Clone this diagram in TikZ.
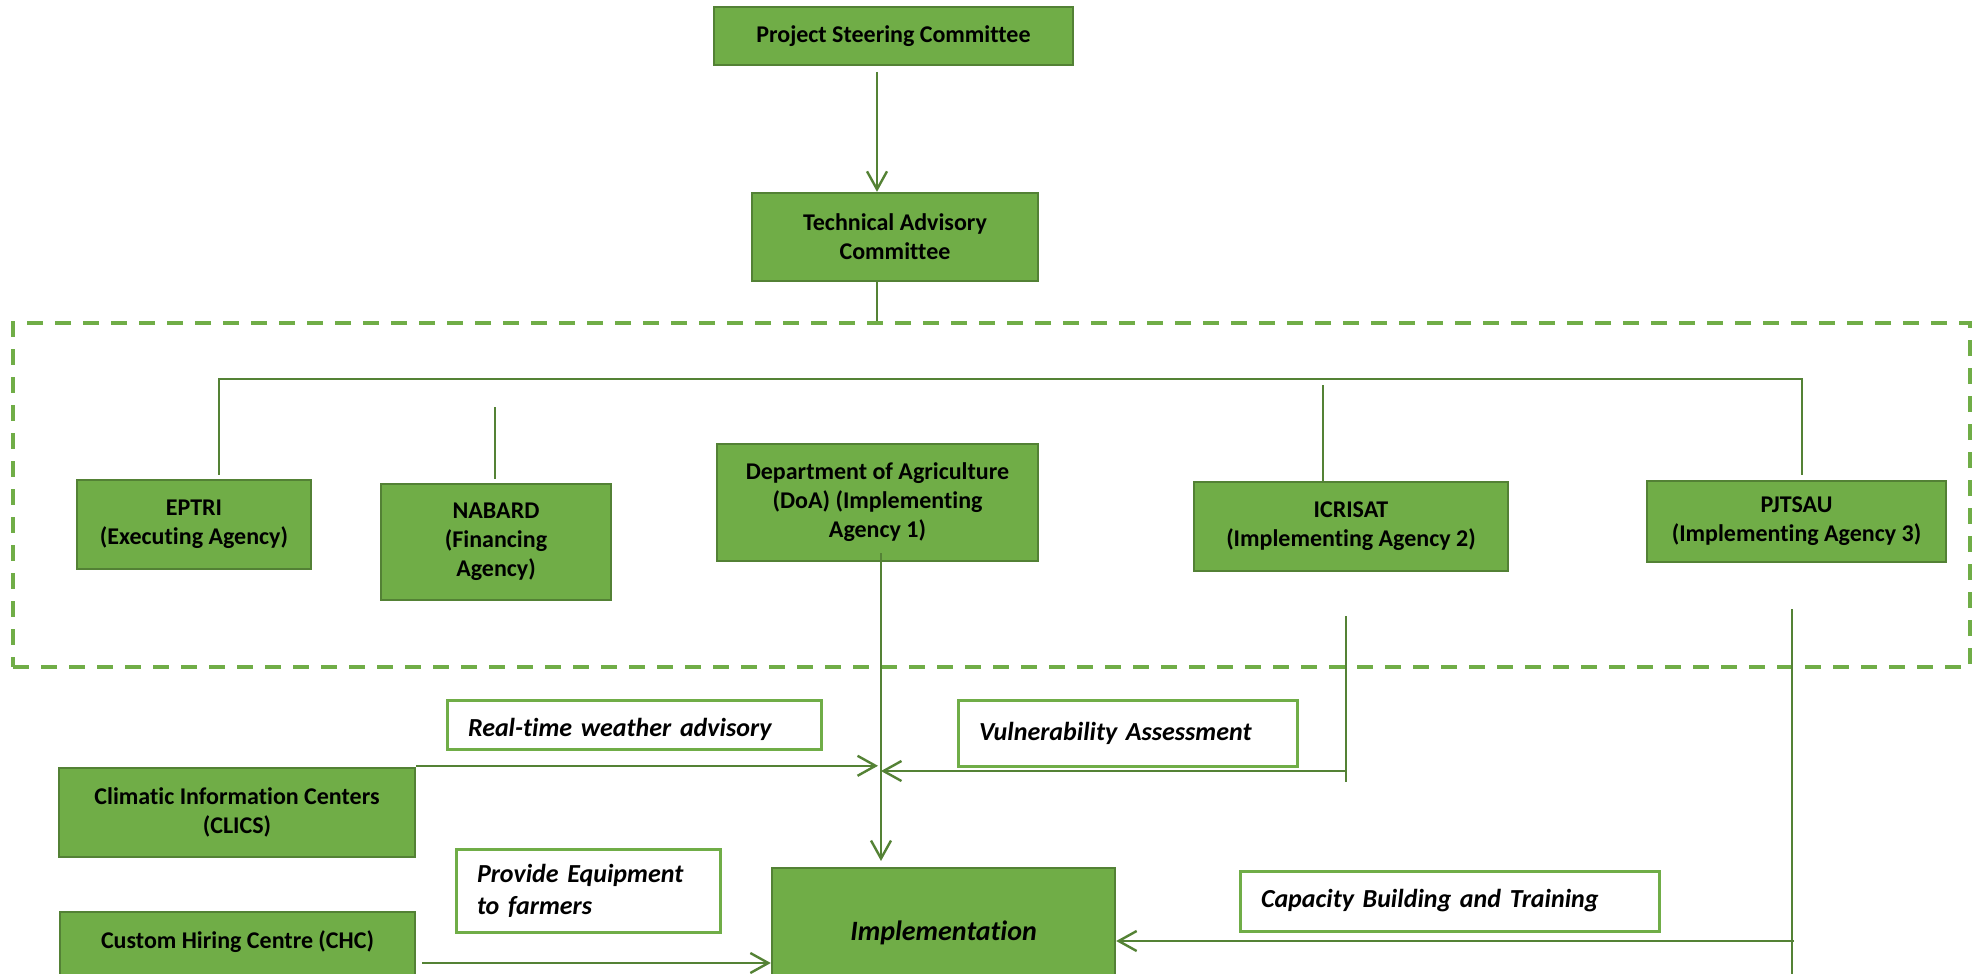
\documentclass[tikz,border=0pt]{standalone}
\usepackage{fontspec}
\setmainfont{Carlito}[Ligatures=CommonOff]
\usetikzlibrary{arrows.meta,calc}
\definecolor{gfill}{HTML}{70AD47}
\definecolor{gdark}{HTML}{538135}
\definecolor{gline}{HTML}{548235}
\begin{document}
\begin{tikzpicture}[x=0.5pt,y=-0.5pt,
  gbox/.style={draw=gdark, line width=1.2pt, fill=gfill, inner sep=0pt, align=center,
    font=\bfseries\fontsize{12}{14.5}\selectfont},
  lbox/.style={draw=gfill, line width=1.5pt, fill=white, inner ysep=0pt, inner xsep=10.5pt,
    align=left, font=\bfseries\itshape\fontsize{13}{16}\selectfont},
  conn/.style={draw=gline, line width=1.2pt},
  arr/.style={conn, -{Straight Barb[length=9pt,width=10pt,line width=1.2pt]}},
  frame/.style={draw=gfill, line width=2pt, dash pattern=on 8pt off 6pt, inner sep=0pt},
]
\useasboundingbox (0,0) rectangle (1981,974);
\clip (0,0) rectangle (1981,974);

% dashed frame
\node[frame, minimum width=978.5pt, minimum height=172pt] (frm) at (991.5,495) {};

% top boxes
\node[gbox, minimum width=179.5pt, minimum height=29pt] (psc) at (893.5,36) {Project Steering Committee};
\node[gbox, minimum width=143pt, minimum height=44pt] (tac) at (895,237) {Technical Advisory\\Committee};

% agencies
\node[gbox, minimum width=117pt, minimum height=44.5pt] (eptri) at (194,524.5) {EPTRI\\(Executing Agency)};
\node[gbox, minimum width=115pt, minimum height=58pt] (nabard) at (496,542) {NABARD\\(Financing\\Agency)};
\node[gbox, minimum width=160.5pt, minimum height=58.5pt] (doa) at (877.5,502.5) {Department of Agriculture\\(DoA) (Implementing\\Agency 1)};
\node[gbox, minimum width=157pt, minimum height=44.5pt] (icrisat) at (1351,526.5) {ICRISAT\\(Implementing Agency 2)};
\node[gbox, minimum width=149.5pt, minimum height=40.5pt] (pjtsau) at (1796.5,521.5) {PJTSAU\\(Implementing Agency 3)};

% lower boxes
\node[gbox, minimum width=178pt, minimum height=44.5pt] (clics) at (237,812.5) {Climatic Information Centers\\(CLICS)};
\node[gbox, anchor=north, minimum width=177.5pt, text height=18pt, text depth=30pt] (chc) at (237.5,911) {Custom Hiring Centre (CHC)};
\node[gbox, anchor=north, minimum width=171.5pt, text height=36pt, text depth=20pt,
  font=\bfseries\itshape\fontsize{14}{16}\selectfont] (impl) at (943.5,867) {Implementation};

% label boxes
\node[lbox, text width=166pt, minimum height=24.5pt, text height=12pt, text depth=0pt] (rtwa) at (634,724.5) {Real-time weather advisory};
\node[lbox, text width=148.5pt, minimum height=33pt] (va) at (1127.5,733) {Vulnerability Assessment};
\node[lbox, text width=111pt, minimum height=41.5pt] (pe) at (588,890.5) {Provide Equipment\\to farmers};
\node[lbox, text width=188.5pt, minimum height=30pt] (cbt) at (1449.5,901) {Capacity Building and Training};

% coordinates
\coordinate (c1) at (877,72);
\coordinate (b1) at (219,379);
\coordinate (b2) at (1802,379);
\coordinate (n1) at (495,407);
\coordinate (i1) at (1323,385);
\coordinate (d1) at (881,553);
\coordinate (i2) at (1346,616);
\coordinate (i3) at (1346,782);
\coordinate (i4) at (1346,771);
\coordinate (p1) at (1792,609);
\coordinate (p2) at (1792,990);
\coordinate (p3) at (1794,941);
\coordinate (h1) at (422,963);

% connectors
\draw[arr] (c1) -- (c1 |- tac.north);
\draw[conn] (c1 |- tac.south) -- (c1 |- frm.north);
\draw[conn] ($(b1 |- eptri.north)+(0,-4)$) -- (b1) -- (b2) -- ($(b2 |- pjtsau.north)+(0,-5)$);
\draw[conn] (n1) -- ($(n1 |- nabard.north)+(0,-4)$);
\draw[conn] (i1) -- (i1 |- icrisat.north);
\draw[arr, shorten >=3pt] (d1) -- (d1 |- impl.north);
\draw[arr] ($(clics.north east)+(0,-1)$) -- ($(clics.north east -| d1)+(-3,-1)$);
\draw[conn] (i2) -- (i3);
\draw[arr] (i4) -- (i4 -| d1);
\draw[conn] (p1) -- (p2);
\draw[arr] (p3) -- (p3 -| impl.east);
\draw[arr] (h1) -- (h1 -| impl.west);
\end{tikzpicture}
\end{document}
